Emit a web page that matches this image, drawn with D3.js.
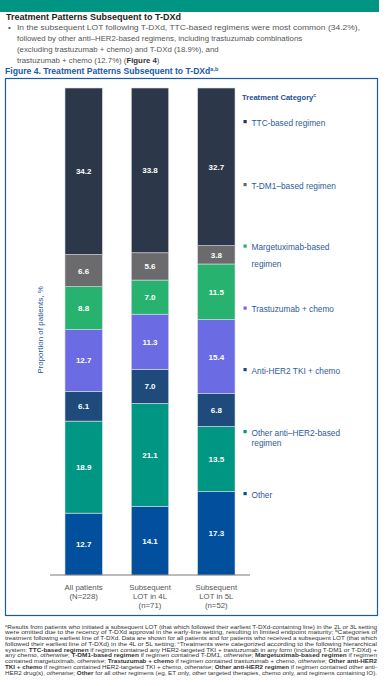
<!DOCTYPE html>
<html>
<head>
<meta charset="utf-8">
<script src="https://cdn.jsdelivr.net/npm/d3@7"></script>
<style>
  body { margin: 0; background: #fff; }
  svg { font-family: "Liberation Sans", Arial, sans-serif; display: block; }
</style>
</head>
<body>
<svg id="chart" width="389" height="686"></svg>
<script>
// data
const groups = ['all', 'l4', 'l5']
const groupLabels = [['All patients', '(N=228)'], ['Subsequent', 'LOT in 4L', '(n=71)'], ['Subsequent', 'LOT in 5L', '(n=52)']]
// stack order bottom -> top
const categories = ['Other', 'Other anti–HER2-based regimen', 'Anti-HER2 TKI + chemo', 'Trastuzumab + chemo', 'Margetuximab-based regimen', 'T-DM1–based regimen', 'TTC-based regimen']
const valuesAll = [12.7, 18.9, 6.1, 12.7, 8.8, 6.6, 34.2]
const values4L = [14.1, 21.1, 7.0, 11.3, 7.0, 5.6, 33.8]
const values5L = [17.3, 13.5, 6.8, 15.4, 11.5, 3.8, 32.7]
const colors = ['#024f9e', '#009684', '#1f4a7c', '#6b6be3', '#27b36f', '#6b6b6e', '#2c3849']

const svg = d3.select('#chart')

// header band
svg.append('rect').attr('x', 0).attr('y', 0).attr('width', 379).attr('height', 12).attr('fill', '#009483')

svg.append('text').attr('x', 6).attr('y', 20)
  .attr('font-size', 9).attr('font-weight', 'bold').attr('fill', '#222')
  .text('Treatment Patterns Subsequent to T-DXd')

const bullet = [
  'In the subsequent LOT following T-DXd, TTC-based regimens were most common (34.2%),',
  'followed by other anti–HER2-based regimens, including trastuzumab combinations',
  '(excluding trastuzumab + chemo) and T-DXd (18.9%), and'
]
svg.append('text').attr('x', 8).attr('y', 29.5).attr('font-size', 8).attr('fill', '#555').text('•')
bullet.forEach((l, i) => {
  const t = svg.append('text').attr('x', 17).attr('y', 29.5 + i * 11.3)
    .attr('font-size', 7.8).attr('fill', '#555').text(l)
  if (i === 0) t.attr('textLength', 343).attr('lengthAdjust', 'spacingAndGlyphs')
})
const last = svg.append('text').attr('x', 17).attr('y', 29.5 + 3 * 11.3).attr('font-size', 7.8).attr('fill', '#555')
last.append('tspan').text('trastuzumab + chemo (12.7%) (')
last.append('tspan').attr('font-weight', 'bold').attr('fill', '#333').text('Figure 4')
last.append('tspan').text(')')

const ft = svg.append('text').attr('x', 5).attr('y', 74)
  .attr('font-size', 8.6).attr('font-weight', 'bold').attr('fill', '#1a5aa8')
ft.append('tspan').text('Figure 4. Treatment Patterns Subsequent to T-DXd')
ft.append('tspan').attr('font-size', 5.5).attr('dy', -3).text('a,b')

// frame
svg.append('rect').attr('x', 5.5).attr('y', 78.5).attr('width', 372).attr('height', 537)
  .attr('fill', 'none').attr('stroke', '#1a5aa8').attr('stroke-width', 1.2)

// scales
const x = d3.scaleBand().domain(groups).range([50, 250]).paddingInner(0.436).paddingOuter(0.226)
const y = d3.scaleLinear().domain([0, 1]).range([575, 88])

const rows = groups.map((g, gi) => {
  const vals = [valuesAll, values4L, values5L][gi]
  const r = { group: g }
  categories.forEach((c, ci) => { r[c] = vals[ci] })
  return r
})
const stack = d3.stack().keys(categories).offset(d3.stackOffsetExpand)
const series = stack(rows)

const layer = svg.append('g').selectAll('g')
  .data(series)
  .join('g')
  .attr('fill', (d, i) => colors[i])

layer.selectAll('rect')
  .data(d => d.map(p => ({ p, key: d.key })))
  .join('rect')
  .attr('x', d => x(d.p.data.group))
  .attr('width', x.bandwidth())
  .attr('y', d => y(d.p[1]))
  .attr('height', d => y(d.p[0]) - y(d.p[1]))
  .attr('stroke', '#d9dde3').attr('stroke-width', 0.6)

layer.selectAll('text')
  .data(d => d.map(p => ({ p, key: d.key })))
  .join('text')
  .attr('x', d => x(d.p.data.group) + x.bandwidth() / 2)
  .attr('y', d => (y(d.p[0]) + y(d.p[1])) / 2 + 3)
  .attr('text-anchor', 'middle')
  .attr('font-size', 8).attr('font-weight', 'bold').attr('fill', '#fff')
  .text(d => d.p.data[d.key].toFixed(1))

// baseline
svg.append('line').attr('x1', 50).attr('x2', 250).attr('y1', 575).attr('y2', 575)
  .attr('stroke', '#555').attr('stroke-width', 0.8)

// category labels
groups.forEach((g, gi) => {
  groupLabels[gi].forEach((l, li) => {
    svg.append('text')
      .attr('x', x(g) + x.bandwidth() / 2)
      .attr('y', 590 + li * 8.8)
      .attr('text-anchor', 'middle').attr('font-size', 7.8).attr('fill', '#555')
      .text(l)
  })
})

// y axis title
svg.append('text')
  .attr('transform', 'translate(43,330) rotate(-90)')
  .attr('text-anchor', 'middle').attr('font-size', 8).attr('fill', '#2a5599')
  .text('Proportion of patients, %')

// legend
const lt = svg.append('text').attr('x', 242).attr('y', 100)
  .attr('font-size', 7.6).attr('font-weight', 'bold').attr('fill', '#1f4f96')
lt.append('tspan').text('Treatment Category')
lt.append('tspan').attr('font-size', 5).attr('dy', -3).text('c')

const legendLines = [['TTC-based regimen'], ['T-DM1–based regimen'], ['Margetuximab-based', 'regimen'],
  ['Trastuzumab + chemo'], ['Anti-HER2 TKI + chemo'], ['Other anti–HER2-based', 'regimen'], ['Other']]
const legendY = [122.5, 185.5, 247, 309, 370.5, 432.5, 494.5]
const lineGap = [0, 0, 16.5, 0, 0, 10.5, 0]
legendLines.forEach((lines, i) => {
  const ci = categories.length - 1 - i
  svg.append('rect').attr('x', 243.5).attr('y', legendY[i] - 2.5).attr('width', 3.2).attr('height', 3.2)
    .attr('fill', colors[ci])
  lines.forEach((l, li) => {
    svg.append('text').attr('x', 251.5).attr('y', legendY[i] + 3 + li * lineGap[i])
      .attr('font-size', 8.3).attr('fill', '#2f5a9a').text(l)
  })
})

// footnotes
const foot = [
  [['sup', 'a'], ['n', 'Results from patients who initiated a subsequent LOT (that which followed their earliest T-DXd-containing line) in the 2L or 3L setting']],
  [['n', 'were omitted due to the recency of T-DXd approval in the early-line setting, resulting in limited endpoint maturity; '], ['sup', 'b'], ['n', 'Categories of']],
  [['n', 'treatment following earliest line of T-DXd. Data are shown for all patients and for patients who received a subsequent LOT (that which']],
  [['n', 'followed their earliest line of T-DXd) in the 4L or 5L setting; '], ['sup', 'c'], ['n', 'Treatments were categorized according to the following hierarchical']],
  [['n', 'system: '], ['b', 'TTC-based regimen'], ['n', ' if regimen contained any HER2-targeted TKI + trastuzumab in any form (including T-DM1 or T-DXd) +']],
  [['n', 'any chemo, '], ['i', 'otherwise'], ['n', '; '], ['b', 'T-DM1-based regimen'], ['n', ' if regimen contained T-DM1, '], ['i', 'otherwise'], ['n', '; '], ['b', 'Margetuximab-based regimen'], ['n', ' if regimen']],
  [['n', 'contained margetuximab, '], ['i', 'otherwise'], ['n', '; '], ['b', 'Trastuzumab + chemo'], ['n', ' if regimen contained trastuzumab + chemo, '], ['i', 'otherwise'], ['n', '; '], ['b', 'Other anti-HER2']],
  [['b', 'TKI + chemo'], ['n', ' if regimen contained HER2-targeted TKI + chemo, '], ['i', 'otherwise'], ['n', '; '], ['b', 'Other anti-HER2 regimen'], ['n', ' if regimen contained other anti-']],
  [['n', 'HER2 drug(s), '], ['i', 'otherwise'], ['n', '; '], ['b', 'Other'], ['n', ' for all other regimens (eg, ET only, other targeted therapies, chemo only, and regimens containing IO).']]
]
foot.forEach((parts, i) => {
  const t = svg.append('text').attr('x', 5).attr('y', 628.5 + i * 5.75)
    .attr('font-size', 5.3).attr('fill', '#333')
    .attr('textLength', 372).attr('lengthAdjust', 'spacingAndGlyphs')
  parts.forEach(([k, s]) => {
    const sp = t.append('tspan').text(s)
    if (k === 'b') sp.attr('font-weight', 'bold')
    if (k === 'i') sp.attr('font-style', 'italic')
    if (k === 'sup') sp.attr('font-size', 3.5).attr('baseline-shift', 'super')
  })
})
</script>
</body>
</html>
